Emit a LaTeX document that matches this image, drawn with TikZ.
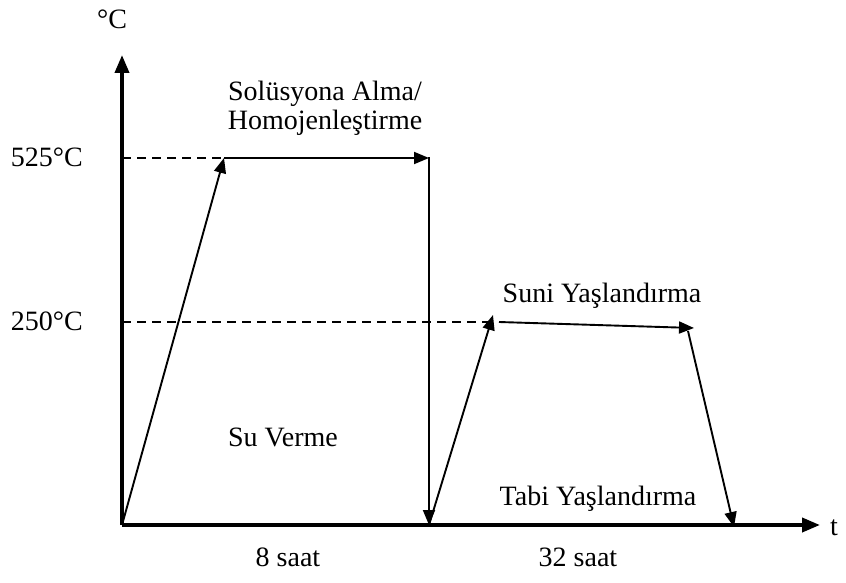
\documentclass[tikz,border=0pt]{standalone}
\usepackage{fontspec}
\setmainfont{Liberation Serif}
\usetikzlibrary{arrows.meta}

\begin{document}
\begin{tikzpicture}[x=1pt, y=-1pt, font=\fontsize{28}{32}\selectfont,
		axis/.style = {line width=3.8pt, -{Triangle[length=18pt,width=14pt]}},
		path/.style = {line width=1.9pt, -{Triangle[length=15pt,width=12pt]}},
		guide/.style = {line width=1.9pt, dash pattern=on 9pt off 6pt},
		lbl/.style = {inner sep=0pt, anchor=base}]
		\useasboundingbox (0,0) rectangle (846,583);
		% points of the cycle
		\coordinate (o) at (122,525);
		\coordinate (ytop) at (122,55);
		\coordinate (xend) at (820,525);
		\coordinate (a) at (224,158);
		\coordinate (b) at (429,158);
		\coordinate (c) at (429,525);
		\coordinate (d) at (493,315);
		\coordinate (e) at (499,322);
		\coordinate (f) at (694,328);
		\coordinate (g) at (688,331);
		\coordinate (h) at (734,527);
		\coordinate (k250) at (490,322);
		
		% axes
		\draw[axis] (o) -- (ytop);
		\draw[axis] (o) -- (xend);
		\node[lbl] (unit) at (112,29) {°C};
		\node[lbl] (t) at (834,535) {t};
		
		% guide lines
		\draw[guide] (o |- a) -- (a);
		\draw[guide] (o |- k250) -- (k250);
		\node[lbl, anchor=base east] (T1) at (83,166) {525°C};
		\node[lbl, anchor=base east] (T2) at (83,330) {250°C};
		
		% cycle
		\draw[path] (o) -- (a);
		\draw[path] (a) -- (b);
		\draw[line width=1.9pt] (b) -- ++(0,-1);
		\draw[path] (b) -- (c);
		\draw[path] (c) -- (d);
		\draw[path] (e) -- (f);
		\draw[path] (g) -- (h);
		
		% labels
		\node[lbl] (sol) at (325,101) {Solüsyona Alma/};
		\node[lbl] (hom) at (325,130) {Homojenleştirme};
		\node[lbl] (suni) at (602,302) {Suni Yaşlandırma};
		\node[lbl] (su) at (283,446) {Su Verme};
		\node[lbl] (tabi) at (598,505) {Tabi Yaşlandırma};
		\node[lbl] (s8) at (288,566) {8 saat};
		\node[lbl] (s32) at (578,566) {32 saat};
	\end{tikzpicture}
\end{document}
